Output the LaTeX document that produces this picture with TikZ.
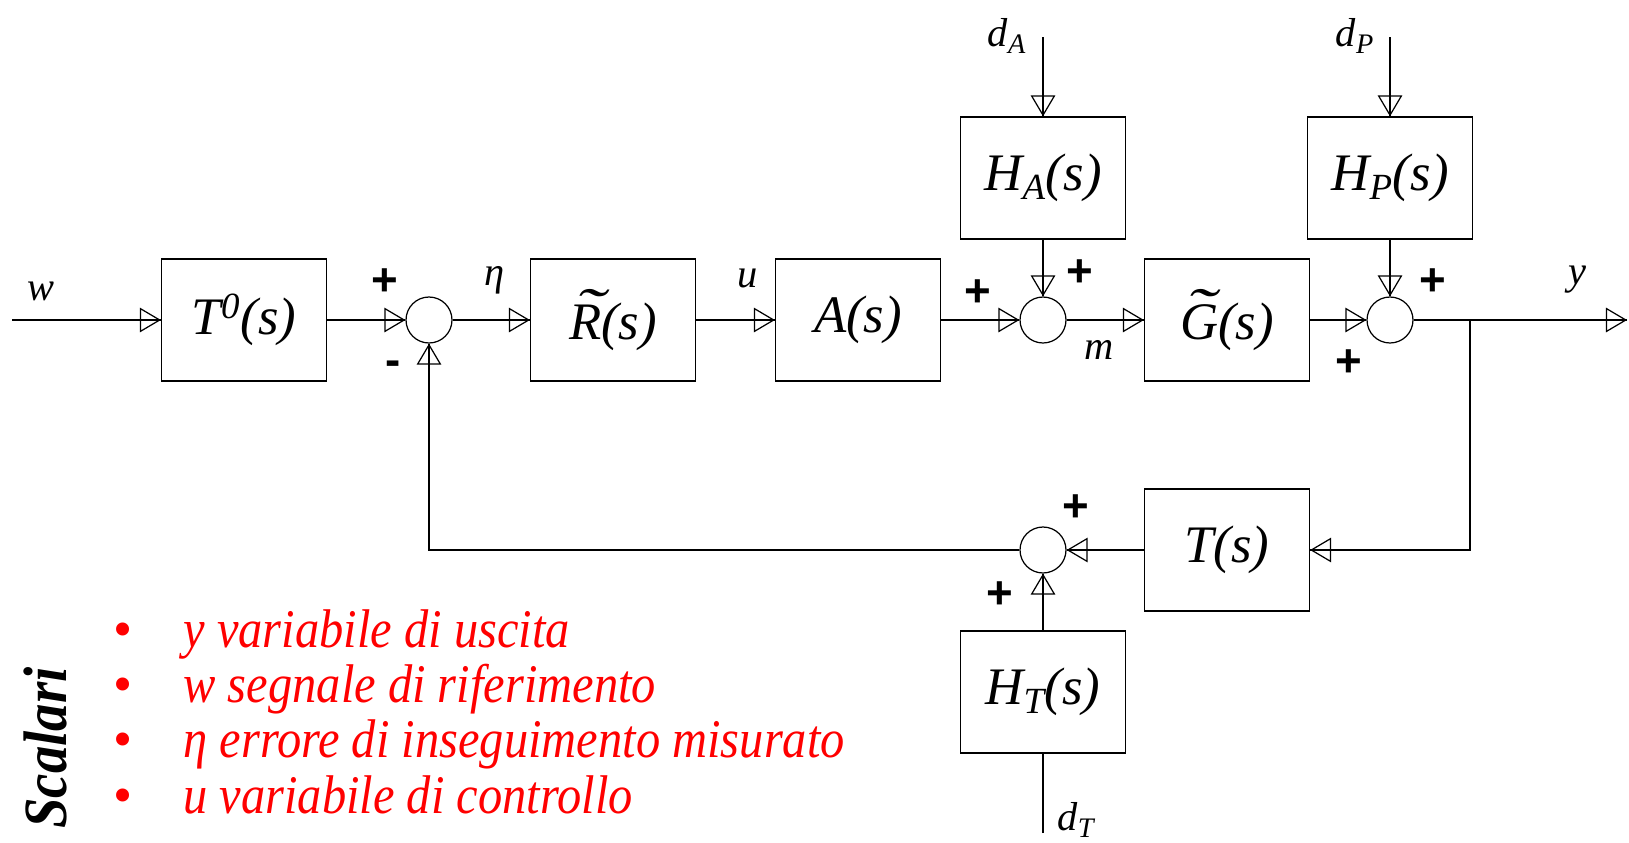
\documentclass[tikz,border=0pt]{standalone}
\usepackage{fontspec}
\usepackage{graphicx}
\setmainfont{Liberation Serif}
\newfontfamily\plusfont{Liberation Sans}
\newfontfamily\listfont{Liberation Serif}[FakeStretch=0.89]
\usetikzlibrary{arrows.meta}
\definecolor{listred}{rgb}{1,0,0}
\newcommand\tildeon[1]{\rlap{\raisebox{0.2em}{\kern0.1em\scalebox{1.7}[1.1]{˜}}}#1}

\begin{document}
\begin{tikzpicture}[x=0.02cm,y=-0.02cm,line width=0.7pt,
    block/.style={draw,minimum width=3.3cm,minimum height=2.44cm,inner sep=0pt,
      font=\fontsize{30}{34}\selectfont\itshape},
    sumnode/.style={draw,circle,minimum size=0.92cm,inner sep=0pt},
    sig/.style={-{Triangle[open,length=12pt,width=14pt]},postaction={draw,-}},
    lbl/.style={font=\fontsize{23}{27}\selectfont\itshape},
    sgn/.style={font=\fontsize{26}{30}\selectfont\plusfont\bfseries},
    listtext/.style={text=listred,anchor=base west,font=\fontsize{31}{35}\selectfont\listfont\itshape}]
  \useasboundingbox (0,0) rectangle (1629,842);

  % blocchi
  \node[block] (T0) at (244,320) {T\textsuperscript{0}(s)};
  \node[block] (R)  at (613,320) {\tildeon{R}(s)};
  \node[block] (A)  at (858,320) {A(s)};
  \node[block] (HA) at (1043,178) {H\textsubscript{A}(s)};
  \node[block] (G)  at (1227,320) {\tildeon{G}(s)};
  \node[block] (HP) at (1390,178) {H\textsubscript{P}(s)};
  \node[block] (T)  at (1227,550) {T(s)};
  \node[block] (HT) at (1043,692) {H\textsubscript{T}(s)};

  % nodi sommatori
  \node[sumnode] (s1) at (429,320) {};
  \node[sumnode] (s2) at (1043,320) {};
  \node[sumnode] (s3) at (1390,320) {};
  \node[sumnode] (s4) at (1043,550) {};

  \coordinate (win)  at (12,320);
  \coordinate (yout) at (1627,320);
  \coordinate (br)   at (1470,320);
  \coordinate (dAin) at (1043,37);
  \coordinate (dPin) at (1390,37);
  \coordinate (dTin) at (1043,833);

  % segnali
  \draw[sig] (win) -- (T0);
  \draw[sig] (T0) -- (s1);
  \draw[sig] (s1) -- (R);
  \draw[sig] (R) -- (A);
  \draw[sig] (A) -- (s2);
  \draw[sig] (s2) -- (G);
  \draw[sig] (G) -- (s3);
  \draw[sig] (s3) -- (yout);
  \draw[sig] (dAin) -- (HA);
  \draw[sig] (HA) -- (s2);
  \draw[sig] (dPin) -- (HP);
  \draw[sig] (HP) -- (s3);
  \draw[sig] (br) |- (T);
  \draw[sig] (T) -- (s4);
  \draw[sig] (s4) -| (s1);
  \draw (dTin) -- (HT);
  \draw[sig] (HT) -- (s4);

  % etichette
  \node[lbl] (wl) at (41,291) {w};
  \node[lbl] (etal) at (495,280) {η};
  \node[lbl] (ul) at (748,278) {u};
  \node[lbl] (ml) at (1099,350) {m};
  \node[lbl] (yl) at (1577,280) {y};
  \node[lbl] (dAl) at (1007,36) {d\textsubscript{A}};
  \node[lbl] (dPl) at (1355,36) {d\textsubscript{P}};
  \node[lbl] (dTl) at (1076,820) {d\textsubscript{T}};

  % segni
  \node[sgn] (p1) at (385,282) {+};
  \node[sgn] (m1) at (393,368) {-};
  \node[sgn] (p2) at (978,293) {+};
  \node[sgn] (p3) at (1080,273) {+};
  \node[sgn] (p4) at (1433,282) {+};
  \node[sgn] (p5) at (1349,363) {+};
  \node[sgn] (p6) at (1076,508) {+};
  \node[sgn] (p7) at (1000,595) {+};

  % elenco
  \node[rotate=90,font=\fontsize{35}{40}\selectfont\listfont\bfseries\itshape] (scal) at (45,748) {Scalari};
  \foreach \yy/\txt in {647/y variabile di uscita,702/w segnale di riferimento,
      757/η errore di inseguimento misurato,813/u variabile di controllo}{
    \node[text=listred,anchor=base,font=\fontsize{31}{35}\selectfont] at (123,\yy) {•};
    \node[listtext] at (177,\yy) {\txt};
  }
\end{tikzpicture}
\end{document}
